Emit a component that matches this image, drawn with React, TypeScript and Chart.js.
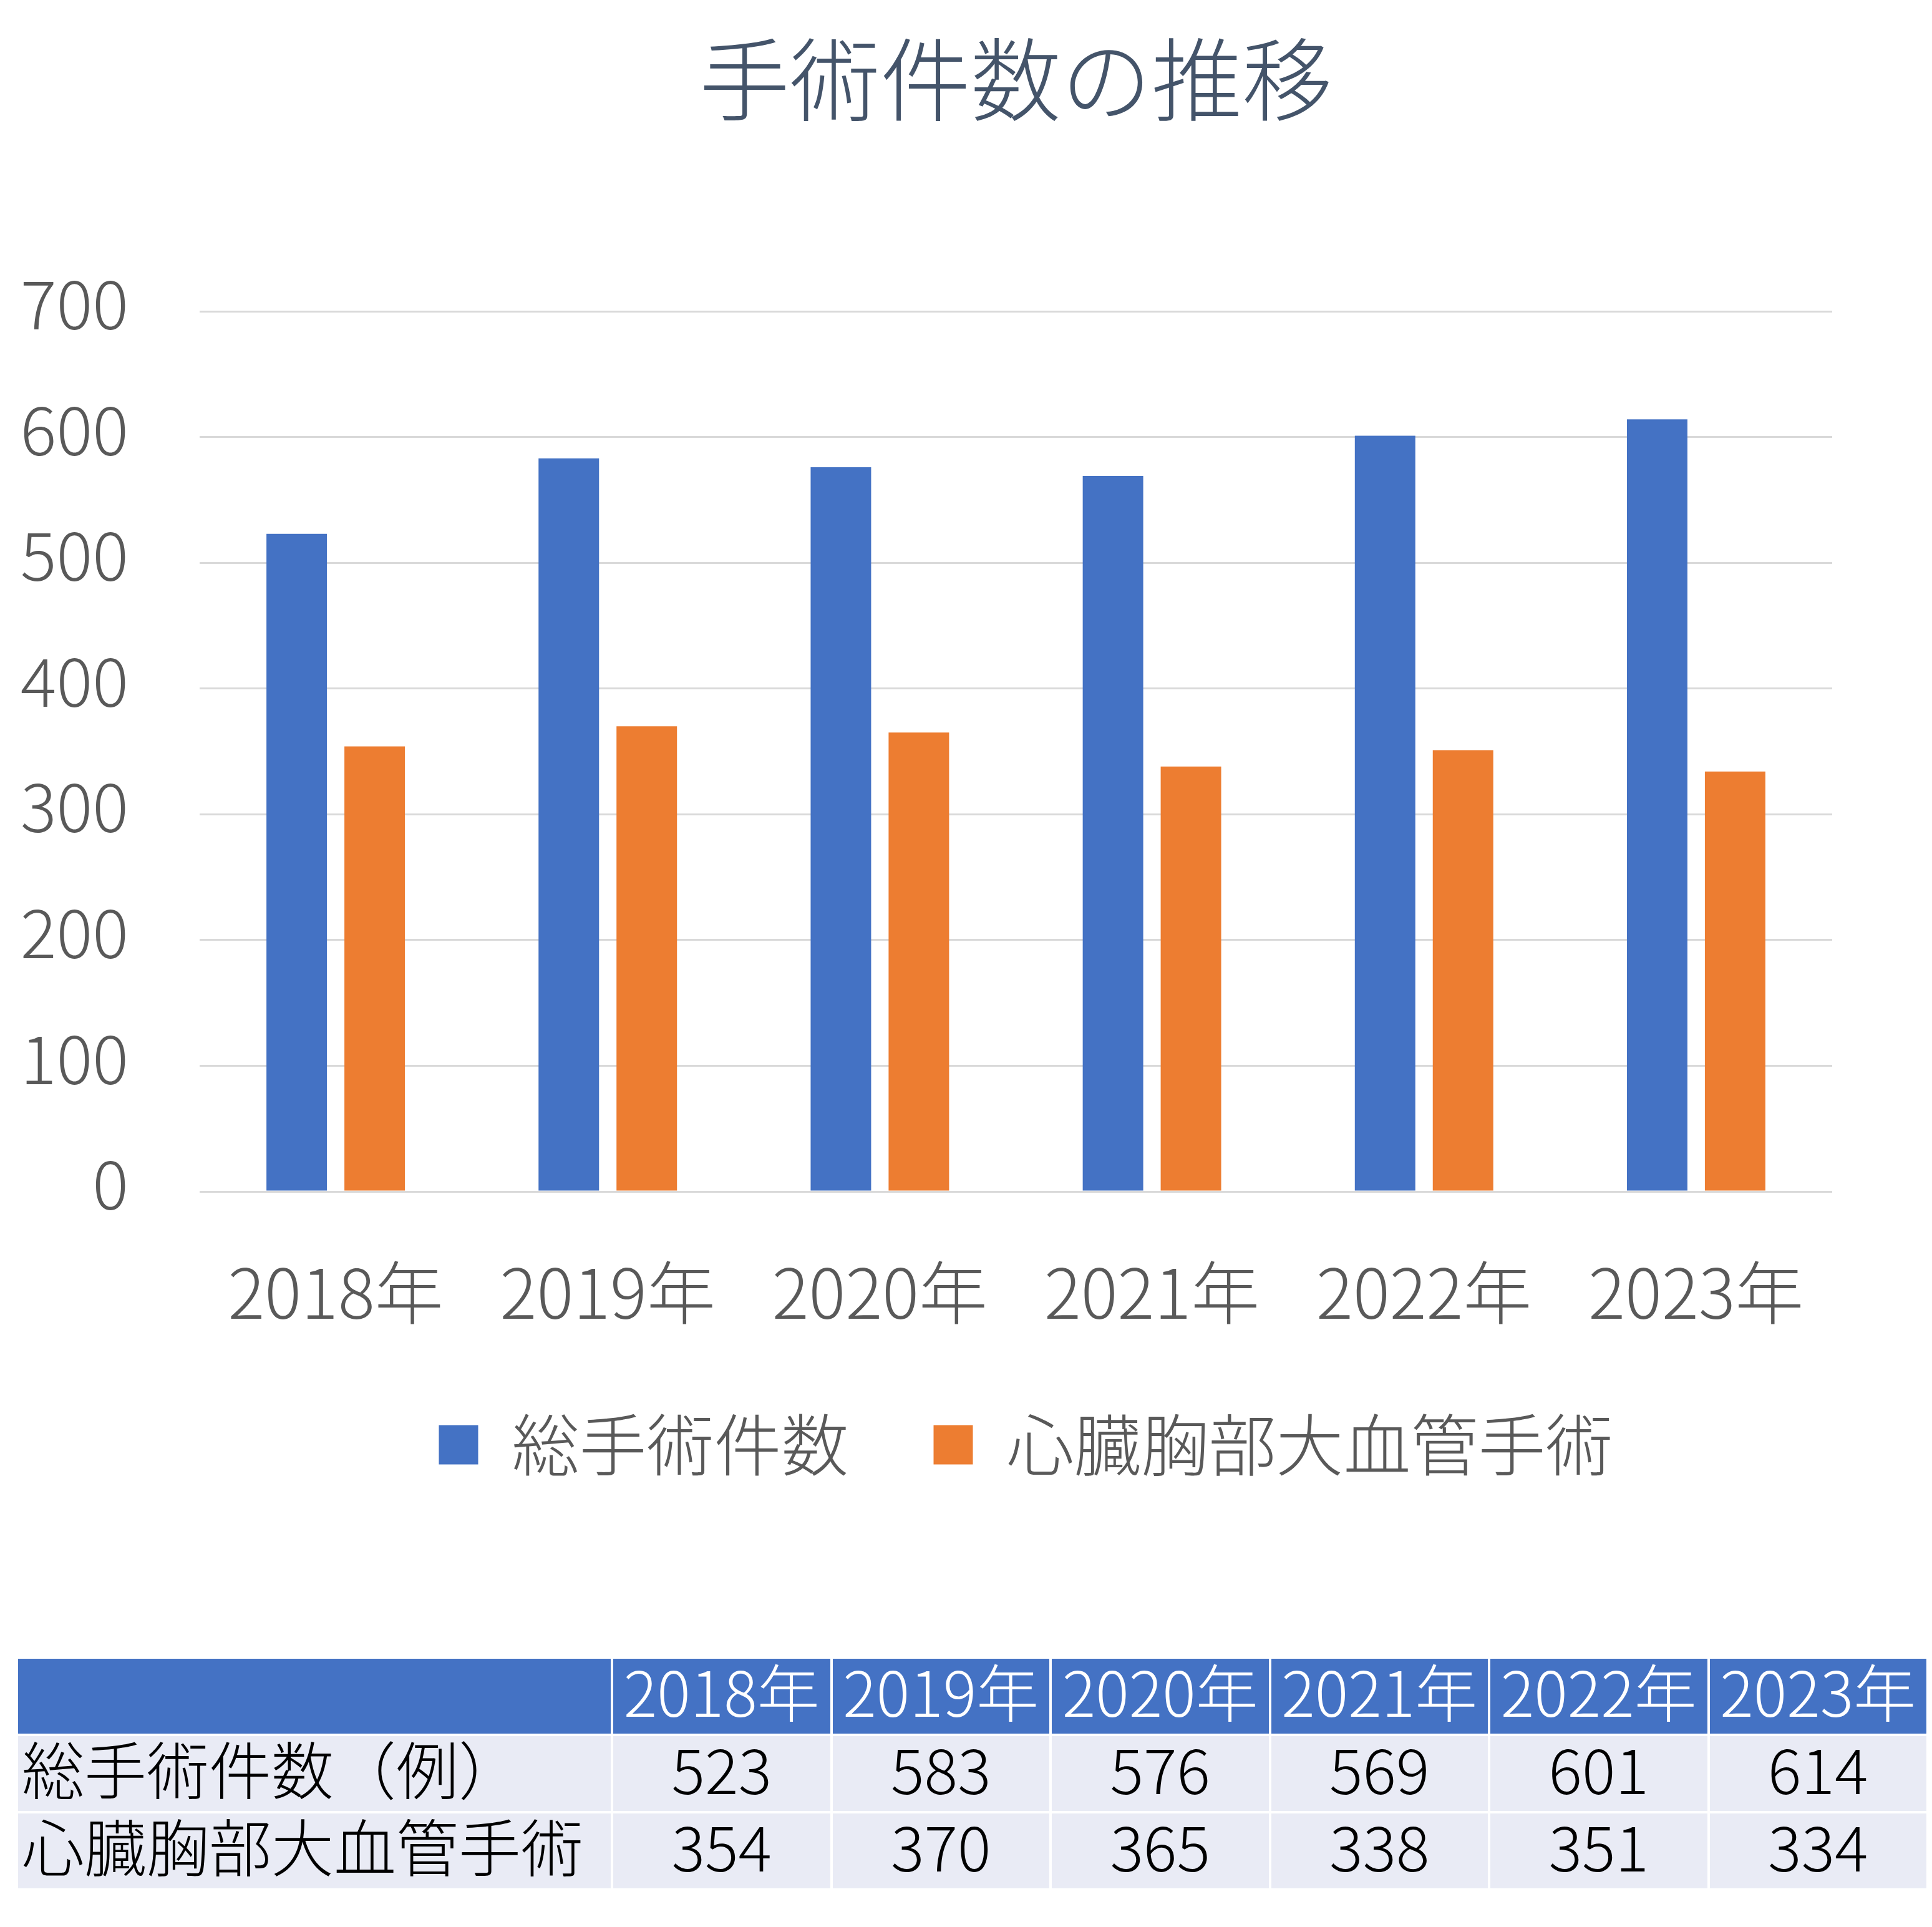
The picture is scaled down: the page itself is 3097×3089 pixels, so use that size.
import React, { useEffect, useRef } from "react";
import { Chart, registerables } from "chart.js";

Chart.register(...registerables);

const titleText = "手術件数の推移";
const categories = ["2018年", "2019年", "2020年", "2021年", "2022年", "2023年"];
const seriesLabels = ["総手術件数", "心臓胸部大血管手術"];
const totalSurgeries = [523, 583, 576, 569, 601, 614];
const cardioSurgeries = [354, 370, 365, 338, 351, 334];
const tableRowLabels = ["総手術件数（例）", "心臓胸部大血管手術"];
const yMin = 0;
const yMax = 700;
const yStep = 100;

const FONT = '"Noto Sans CJK JP", "Noto Sans", sans-serif';
const WEIGHT = 300;
const BLUE = "#4472C4";
const ORANGE = "#ED7D31";
const GRAY = "#595959";

const CANVAS_W = 3097;
const CANVAS_H = 2380;

const legendShift = {
  id: "legendShift",
  afterLayout(chart: any) {
    if (chart.legend) {
      chart.legend.left += 16;
      chart.legend.right += 16;
    }
  },
};

export default function App() {
  const canvasRef = useRef<HTMLCanvasElement | null>(null);

  useEffect(() => {
    document.body.style.margin = "0";
    const canvas = canvasRef.current;
    if (!canvas) return;
    const chart = new Chart(canvas, {
      type: "bar",
      data: {
        labels: categories,
        datasets: [
          {
            label: seriesLabels[0],
            data: totalSurgeries,
            backgroundColor: BLUE,
            categoryPercentage: 0.573,
            barPercentage: 0.776,
          },
          {
            label: seriesLabels[1],
            data: cardioSurgeries,
            backgroundColor: ORANGE,
            categoryPercentage: 0.573,
            barPercentage: 0.776,
          },
        ],
      },
      plugins: [legendShift],
      options: {
        responsive: false,
        animation: false,
        devicePixelRatio: 1,
        layout: { padding: { left: 0, right: 160, top: 0, bottom: 0 } },
        plugins: {
          title: {
            display: true,
            fullSize: false,
            text: titleText,
            color: "#44546A",
            font: { family: FONT, size: 145, weight: WEIGHT as any, lineHeight: 1.2 },
            padding: { top: 41, bottom: 284 },
          },
          legend: {
            position: "bottom",
            fullSize: false,
            labels: {
              boxWidth: 63,
              boxHeight: 63,
              padding: 136,
              color: GRAY,
              font: { family: FONT, size: 108, weight: WEIGHT as any, lineHeight: 1.2 },
            },
          },
          tooltip: { enabled: false },
        },
        scales: {
          x: {
            grid: { display: false },
            border: { display: false },
            ticks: {
              color: GRAY,
              font: { family: FONT, size: 110, weight: WEIGHT as any, lineHeight: 1.2 },
              padding: 88,
              maxRotation: 0,
              autoSkip: false,
            },
            afterFit: (scale: any) => {
              scale.height = 216;
            },
          },
          y: {
            min: yMin,
            max: yMax,
            ticks: {
              stepSize: yStep,
              color: GRAY,
              font: { family: FONT, size: 108, weight: WEIGHT as any, lineHeight: 0.22 },
              padding: 114,
              callback: (value: any) => [String(value), ""],
            },
            grid: { color: "#D9D9D9", lineWidth: 3, drawTicks: false },
            border: { display: false },
            afterFit: (scale: any) => {
              scale.width = 320;
            },
          },
        },
      },
    });
    return () => chart.destroy();
  }, []);

  const cellBase: React.CSSProperties = {
    display: "flex",
    alignItems: "center",
    height: 120,
    boxSizing: "border-box",
    paddingBottom: 20,
    fontFamily: FONT,
    fontWeight: WEIGHT,
    fontSize: 100,
    lineHeight: 1,
    whiteSpace: "nowrap",
    overflow: "hidden",
  };

  const rows = [totalSurgeries, cardioSurgeries];

  return (
    <div
      style={{
        position: "absolute",
        left: 0,
        top: 0,
        width: 3097,
        height: 3089,
        background: "#ffffff",
        overflow: "hidden",
      }}
    >
      <canvas
        ref={canvasRef}
        width={CANVAS_W}
        height={CANVAS_H}
        style={{ position: "absolute", left: 0, top: 0, width: CANVAS_W, height: CANVAS_H }}
      />
      <div
        style={{
          position: "absolute",
          left: 29,
          top: 2659,
          width: 3059,
          display: "grid",
          gridTemplateColumns: `950px repeat(${categories.length}, 1fr)`,
          columnGap: 4,
          rowGap: 4,
        }}
      >
        <div style={{ ...cellBase, background: BLUE }} />
        {categories.map((c) => (
          <div key={c} style={{ ...cellBase, background: BLUE, color: "#ffffff", justifyContent: "center" }}>
            {c}
          </div>
        ))}
        {rows.map((vals, ri) => (
          <React.Fragment key={ri}>
            <div style={{ ...cellBase, background: "#E9EBF5", color: "#000000", paddingLeft: 6 }}>
              {tableRowLabels[ri]}
            </div>
            {vals.map((v, ci) => (
              <div
                key={ci}
                style={{ ...cellBase, background: "#E9EBF5", color: "#000000", justifyContent: "center" }}
              >
                {v}
              </div>
            ))}
          </React.Fragment>
        ))}
      </div>
    </div>
  );
}
